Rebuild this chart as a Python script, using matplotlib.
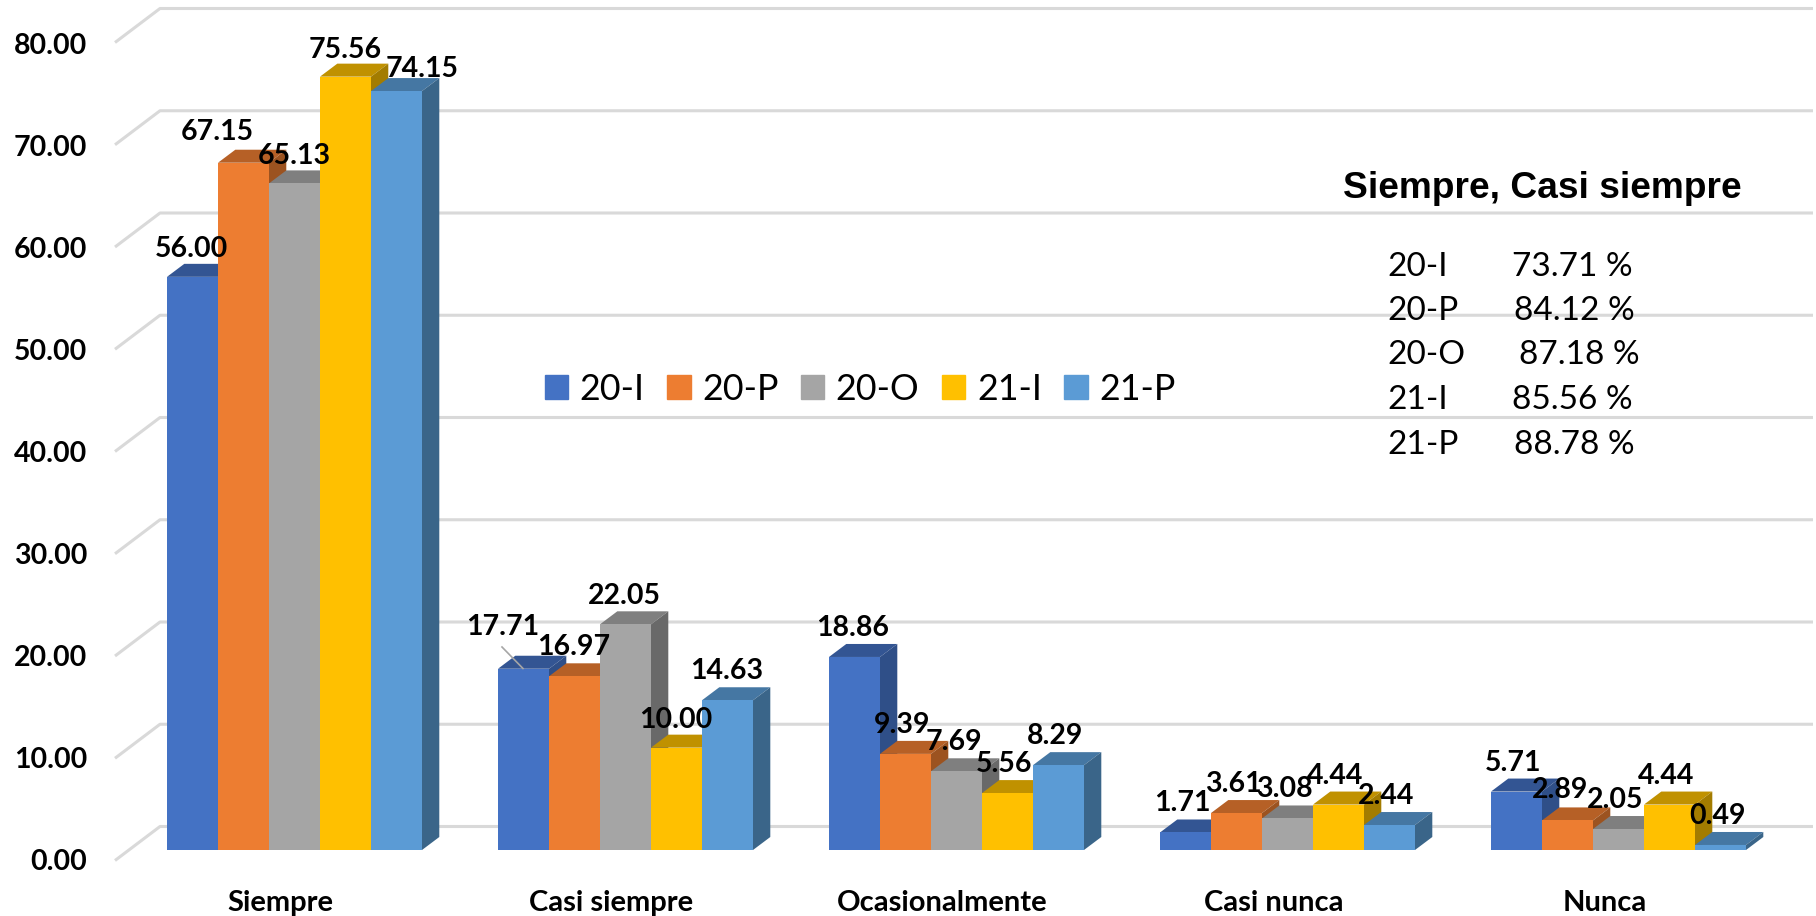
import matplotlib
matplotlib.use('Agg')
import matplotlib.pyplot as plt
from matplotlib.patches import Patch, Polygon

plt.rcParams['font.family'] = ['Lato', 'DejaVu Sans']

categories = ['Siempre', 'Casi siempre', 'Ocasionalmente', 'Casi nunca', 'Nunca']
series_names = ['20-I', '20-P', '20-O', '21-I', '21-P']
v_20i = [56.00, 17.71, 18.86, 1.71, 5.71]
v_20p = [67.15, 16.97, 9.39, 3.61, 2.89]
v_20o = [65.13, 22.05, 7.69, 3.08, 2.05]
v_21i = [75.56, 10.00, 5.56, 4.44, 4.44]
v_21p = [74.15, 14.63, 8.29, 2.44, 0.49]
y_ticks = [0, 10, 20, 30, 40, 50, 60, 70, 80]
side_title = 'Siempre, Casi siempre'
side_values = ['73.71 %', '84.12 %', '87.18 %', '85.56 %', '88.78 %']

series = [v_20i, v_20p, v_20o, v_21i, v_21p]
front = ['#4472C4', '#ED7D31', '#A5A5A5', '#FFC000', '#5B9BD5']
top = ['#335593', '#B66026', '#7F7F7F', '#C09100', '#4577A3']
side = ['#2F4F88', '#9C5320', '#696969', '#A37C00', '#3A6589']

# escala: pixeles de la imagen
W, H = 1816, 916
GROUP_PX = 331.0
BAR_PX = 51.0
X0 = 294.5   # centro del primer grupo
Y0 = 850.0   # base de las barras
UNIT = 10.235  # px por unidad

fig = plt.figure(figsize=(W / 100, H / 100), dpi=100)
ax = fig.add_axes([0, 0, 1, 1])
ax.set_xlim(-X0 / GROUP_PX, (W - X0) / GROUP_PX)
ax.set_ylim(-(H - Y0) / UNIT, Y0 / UNIT)
ax.axis('off')


def px(x):
    return (x - X0) / GROUP_PX


def py(y):
    return (Y0 - y) / UNIT


dx = 17.3 / GROUP_PX
dy = 13 / UNIT
w = BAR_PX / GROUP_PX

# rejilla con la pared y el piso
for t in y_ticks:
    yb = py(826.5) + t * 10.225 / UNIT
    yf = py(860.5) + t * 10.225 / UNIT
    ax.plot([px(115), px(160), px(1813)], [yf, yb, yb], color='#D9D9D9', lw=2.2,
            solid_capstyle='butt', zorder=1)
    ax.text(px(87), py(862) + t * 10.2 / UNIT, f'{t:.2f}', ha='right', va='center', fontsize=20.5,
            fontweight='bold', color='black', zorder=20)

# barras
z = 2
for g in range(len(categories)):
    for s in range(len(series)):
        v = series[s][g]
        x = g + (s - 2) * w
        x0, x1 = x - w / 2, x + w / 2
        ax.add_patch(Polygon([(x0, v), (x1, v), (x1 + dx, v + dy), (x0 + dx, v + dy)],
                             closed=True, fc=top[s], ec='none', zorder=z))
        ax.add_patch(Polygon([(x1, 0), (x1 + dx, dy), (x1 + dx, v + dy), (x1, v)],
                             closed=True, fc=side[s], ec='none', zorder=z))
        ax.bar(x, v, width=w, color=front[s], zorder=z + 1)
        z += 2

# ajustes de etiquetas que Excel movio a mano (px)
label_shift = {(0, 1): (-26, 31), (0, 2): (0, 27), (0, 3): (0, 27), (0, 4): (26, 22),
               (0, 0): (-1, 28), (1, 0): (-21, 42), (2, 0): (-2, 29), (4, 1): (-7, 30),
               (1, 1): (-1, 29), (1, 2): (-1, 28), (1, 3): (-1, 28), (1, 4): (-1, 29)}
for g in range(len(categories)):
    for s in range(len(series)):
        v = series[s][g]
        x = g + (s - 2) * w
        sx, sy = label_shift.get((g, s), (-3, 29))
        ax.text(x + sx / GROUP_PX, v + sy / UNIT, f'{v:.2f}', ha='center', va='center',
                fontsize=20.5, fontweight='bold', color='black', zorder=500)

# linea guia de 17.71
ax.plot([px(502), px(523)], [py(647), py(668.5)], color='#A6A6A6', lw=1.2, zorder=400)

for g, c in enumerate(categories):
    ax.text(g - 14 / GROUP_PX, py(903), c, ha='center', va='center', fontsize=21,
            fontweight='bold', color='black', zorder=20)

handles = [Patch(color=front[i], label=series_names[i]) for i in range(5)]
ax.legend(handles=handles, loc='center', bbox_to_anchor=(860 / W, 1 - 389 / H), ncol=5,
          frameon=False, fontsize=25.8, handlelength=0.66, handleheight=0.66,
          handletextpad=0.32, columnspacing=0.62, borderpad=0)

ax.text(px(1343), py(188), side_title, ha='left', va='center', fontsize=26.7,
        fontweight='bold', family='Liberation Sans', color='black', zorder=20)
side_y = [267, 311, 355, 400, 445]
side_x = [1512, 1514, 1519, 1512, 1514]
for i in range(5):
    ax.text(px(1387), py(side_y[i]), series_names[i], ha='left', va='center', fontsize=24,
            color='black', zorder=20)
    ax.text(px(side_x[i]), py(side_y[i]), side_values[i], ha='left', va='center', fontsize=24,
            color='black', zorder=20)

fig.savefig('out.png', dpi=100)
